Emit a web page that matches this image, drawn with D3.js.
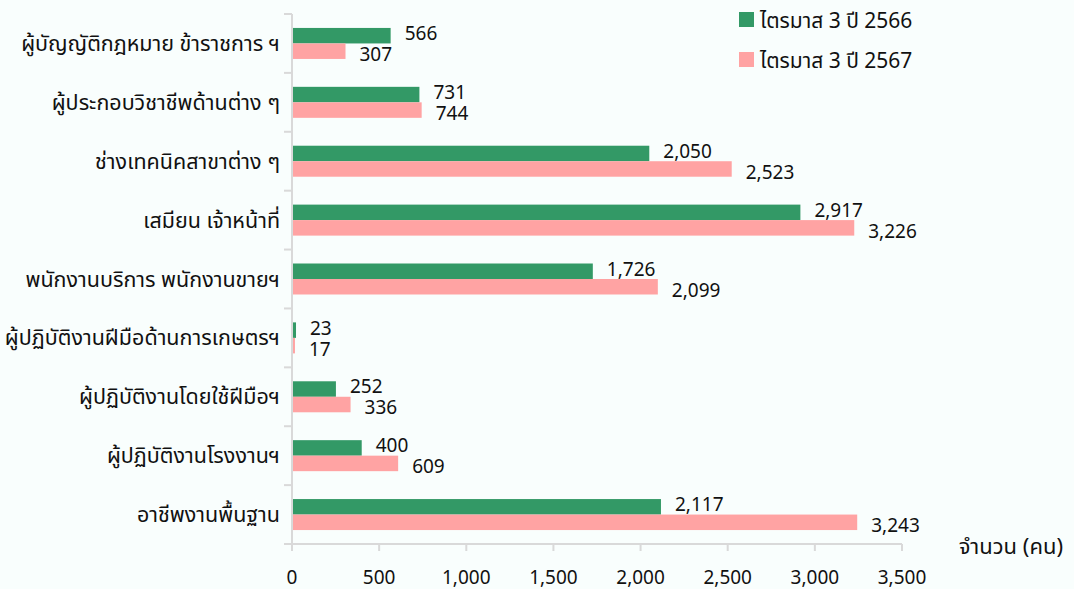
<!DOCTYPE html>
<html>
<head>
<meta charset="utf-8">
<script src="https://cdn.jsdelivr.net/npm/d3@7"></script>
<style>
  html, body { margin: 0; padding: 0; background: #f9fefd; overflow: hidden; }
  svg { display: block; font-family: Tahoma, "Noto Sans Thai", "Noto Sans", "DejaVu Sans", sans-serif; }
</style>
</head>
<body>
<div id="chart"></div>
<script>
// Data
var categories = [
    'ผู้บัญญัติกฎหมาย ข้าราชการ ฯ',
    'ผู้ประกอบวิชาชีพด้านต่าง ๆ',
    'ช่างเทคนิคสาขาต่าง ๆ',
    'เสมียน เจ้าหน้าที่',
    'พนักงานบริการ พนักงานขายฯ',
    'ผู้ปฏิบัติงานฝีมือด้านการเกษตรฯ',
    'ผู้ปฏิบัติงานโดยใช้ฝีมือฯ',
    'ผู้ปฏิบัติงานโรงงานฯ',
    'อาชีพงานพื้นฐาน'
];
var series = ['ไตรมาส 3 ปี 2566', 'ไตรมาส 3 ปี 2567'];
var values2566 = [566, 731, 2050, 2917, 1726, 23, 252, 400, 2117];
var values2567 = [307, 744, 2523, 3226, 2099, 17, 336, 609, 3243];
var xTicks = [0, 500, 1000, 1500, 2000, 2500, 3000, 3500];
var unitLabel = 'จำนวน (คน)';

var width = 1074;
var height = 589;
var colors = ['#339966', '#ffa3a3'];
var BAR_H = 15.5;
var axisColor = '#d9d9d9';
var textColor = '#111';

var x = d3.scaleLinear().domain([0, 3500]).range([292, 902]);
var y = d3.scaleBand().domain(categories).range([14, 544]);

var svg = d3.select('#chart').append('svg')
    .attr('width', width)
    .attr('height', height);

// Axes lines
svg.append('line')
    .attr('x1', x(0)).attr('x2', x(0))
    .attr('y1', 14).attr('y2', 551)
    .attr('stroke', axisColor).attr('stroke-width', 2);
svg.append('line')
    .attr('x1', x(0) - 8).attr('x2', x(3500))
    .attr('y1', 544).attr('y2', 544)
    .attr('stroke', axisColor).attr('stroke-width', 2);

// y ticks at band boundaries
svg.selectAll('.ytick')
    .data(d3.range(categories.length))
    .enter().append('line')
    .attr('x1', x(0) - 8).attr('x2', x(0))
    .attr('y1', (d) => 14 + d * y.step())
    .attr('y2', (d) => 14 + d * y.step())
    .attr('stroke', axisColor).attr('stroke-width', 2);

// x ticks
svg.selectAll('.xtick')
    .data(xTicks)
    .enter().append('line')
    .attr('x1', (d) => x(d)).attr('x2', (d) => x(d))
    .attr('y1', 544).attr('y2', 551)
    .attr('stroke', axisColor).attr('stroke-width', 2);

svg.selectAll('.xlabel')
    .data(xTicks)
    .enter().append('text')
    .attr('x', (d) => x(d))
    .attr('y', 577)
    .attr('dy', '0.35em')
    .attr('text-anchor', 'middle')
    .attr('font-size', 19)
    .attr('fill', textColor)
    .text((d) => d3.format(',')(d));

// Category labels
svg.selectAll('.cat')
    .data(categories)
    .enter().append('text')
    .attr('x', 280)
    .attr('y', (d) => y(d) + y.bandwidth() / 2)
    .attr('dy', '0.35em')
    .attr('text-anchor', 'end')
    .attr('font-size', 21.5)
    .attr('fill', textColor)
    .text((d) => d);

// Bars and value labels
[values2566, values2567].forEach((vals, si) => {
    var g = svg.append('g');
    g.selectAll('rect')
        .data(vals)
        .enter().append('rect')
        .attr('x', x(0) + 1)
        .attr('y', (d, i) => y(categories[i]) + y.bandwidth() / 2 - BAR_H + si * BAR_H)
        .attr('width', (d) => x(d) - x(0) - 1)
        .attr('height', BAR_H)
        .attr('fill', colors[si]);

    g.selectAll('text')
        .data(vals)
        .enter().append('text')
        .attr('x', (d) => x(d) + 14)
        .attr('y', (d, i) => y(categories[i]) + y.bandwidth() / 2 + (si === 0 ? -10 : 11))
        .attr('dy', '0.35em')
        .attr('font-size', 19)
        .attr('fill', textColor)
        .text((d) => d3.format(',')(d));
});

// Legend
var legend = svg.selectAll('.legend')
    .data(series)
    .enter().append('g')
    .attr('transform', (d, i) => `translate(739,${12 + i * 40})`);
legend.append('rect')
    .attr('width', 15).attr('height', 15)
    .attr('fill', (d, i) => colors[i]);
legend.append('text')
    .attr('x', 21).attr('y', 9)
    .attr('dy', '0.35em')
    .attr('font-size', 21)
    .attr('fill', textColor)
    .text((d) => d);

// Unit label
svg.append('text')
    .attr('x', 1063).attr('y', 546)
    .attr('dy', '0.35em')
    .attr('text-anchor', 'end')
    .attr('font-size', 22)
    .attr('fill', textColor)
    .text(unitLabel);
</script>
</body>
</html>
